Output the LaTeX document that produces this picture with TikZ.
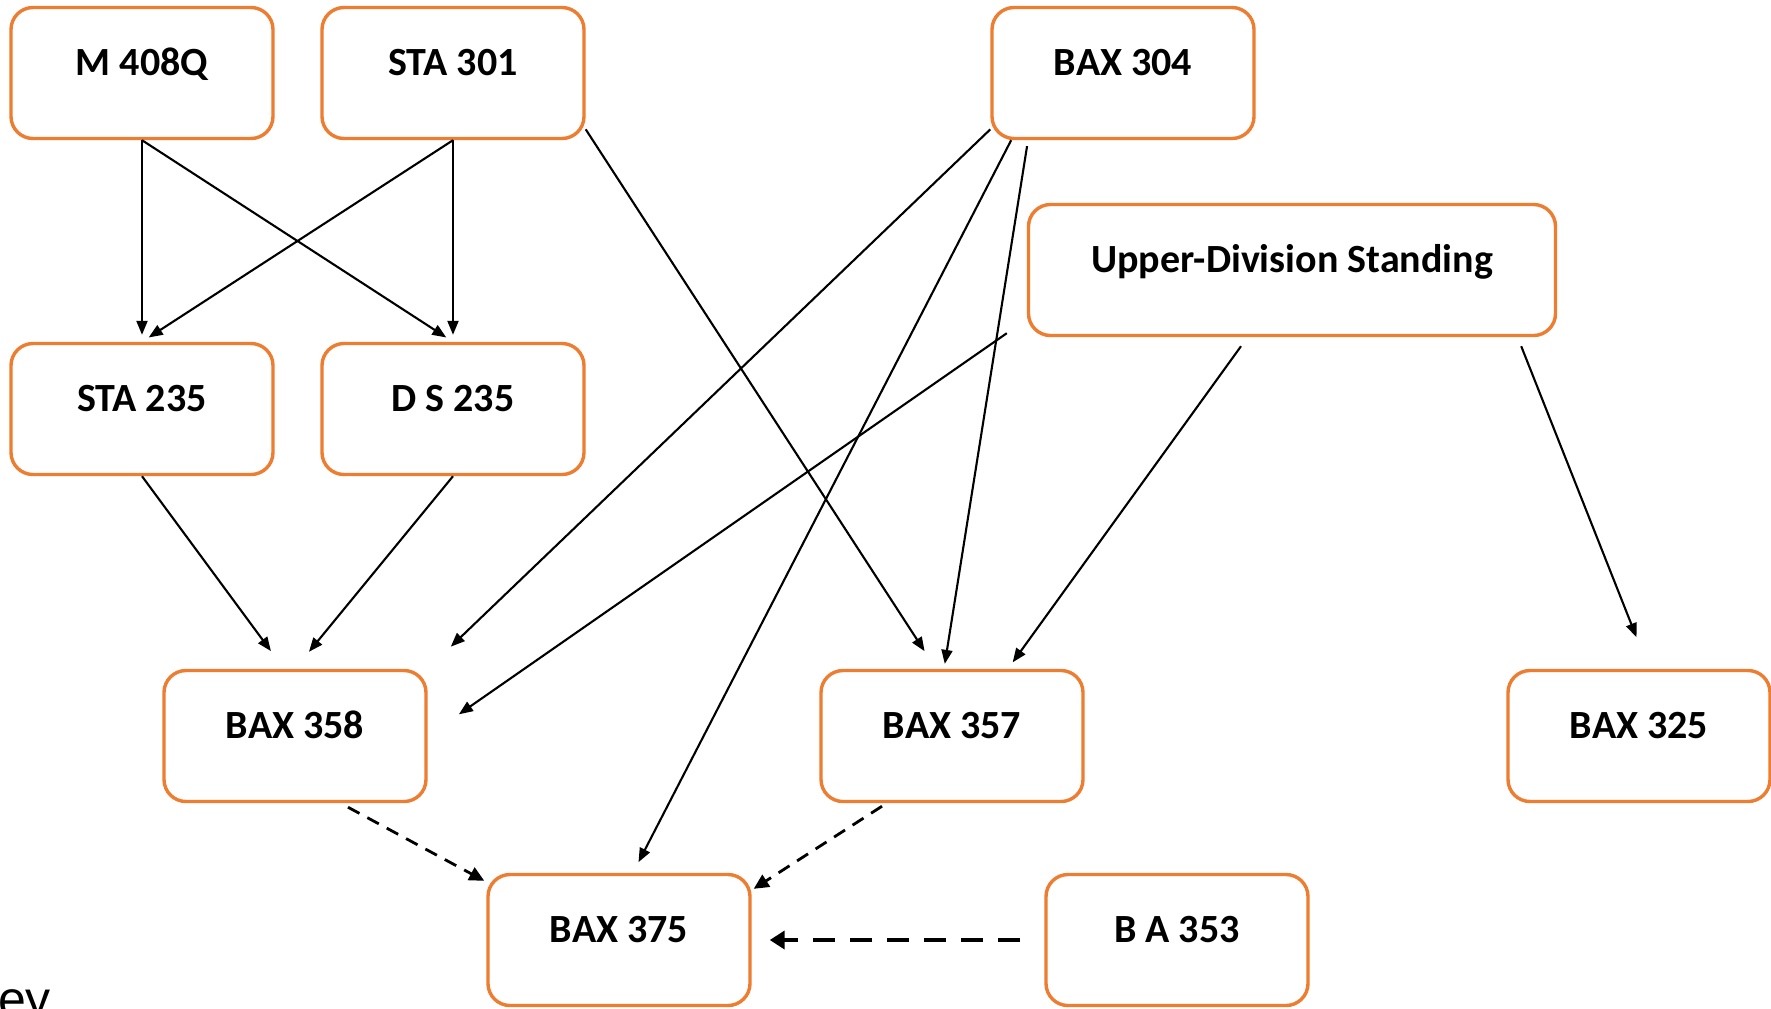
\documentclass[tikz,border=0pt]{standalone}
\usepackage{fontspec}
\setmainfont{Carlito}
\newfontfamily\keyfont{Liberation Sans}
\usepackage{xcolor}
\definecolor{myorange}{RGB}{237,125,49}
\usetikzlibrary{arrows.meta}

\begin{document}
\begin{tikzpicture}[x=0.5pt,y=-0.5pt,line width=1.05pt,>={Triangle[length=7pt,width=5.5pt]}]
	\tikzstyle{kuang}=[draw=myorange,line width=1.7pt,rounded corners=11pt,minimum width=131pt,minimum height=65.5pt,inner sep=0pt,text height=14pt,text depth=11.5pt,font=\fontsize{20}{24}\selectfont\bfseries];
	\tikzstyle{xu}=[line width=1.4pt,dash pattern=on 6.5pt off 4.5pt];
	\tikzstyle{cuxu}=[line width=2pt,dash pattern=on 11pt off 7.5pt];
	\useasboundingbox (0,0) rectangle (1771,1008);
	\clip (0,0) rectangle (1771,1008);
	\node[kuang] (m408)   at (142,73)   {M 408Q};
	\node[kuang] (sta301) at (453,73)   {STA 301};
	\node[kuang] (bax304) at (1123,73)  {BAX 304};
	\node[kuang,minimum width=263.5pt] (uds) at (1292,270) {Upper-Division Standing};
	\node[kuang] (sta235) at (142,409)  {STA 235};
	\node[kuang] (ds235)  at (453,409)  {D S 235};
	\node[kuang] (bax358) at (295,736)  {BAX 358};
	\node[kuang] (bax357) at (952,736)  {BAX 357};
	\node[kuang] (bax325) at (1639,736) {BAX 325};
	\node[kuang] (bax375) at (619,940)  {BAX 375};
	\node[kuang] (ba353)  at (1177,940) {B A 353};
	\node[font=\keyfont\fontsize{25}{29}\selectfont,anchor=base east,inner sep=0pt] (key) at (52,1016) {ey};
	\draw[->,shorten >=3.5pt] (m408.south) -- (sta235.north);
	\draw[->,shorten >=4pt] (m408.south) -- (ds235.north);
	\draw[->,shorten >=4pt] (sta301.south) -- (sta235.north);
	\draw[->,shorten >=3.5pt] (sta301.south) -- (ds235.north);
	\draw[->,shorten >=10.5pt] (sta301.-23.5) -- ([shift={(-16,0)}]bax357.north);
	\draw[->,shorten >=16pt] (bax304.-157) -- (bax358.north east);
	\draw[->,shorten >=6pt] (bax304.-149) -- ([shift={(14,0)}]bax375.north);
	\draw[->,shorten <=3pt,shorten >=2.5pt] ([shift={(-95,0)}]bax304.south) -- ([shift={(-8,0)}]bax357.north);
	\draw[->,shorten >=19pt] ([shift={(-20,-4)}]uds.south west) -- (bax358.east);
	\draw[->,shorten >=4pt] ([shift={(-51,9)}]uds.south) -- ([shift={(56,0)}]bax357.north);
	\draw[->,shorten >=17pt] ([shift={(-36,9)}]uds.south east) -- ([shift={(10,0)}]bax325.north);
	\draw[->,shorten >=11pt] (sta235.south) -- ([shift={(-11,0)}]bax358.north);
	\draw[->,shorten >=11pt] (ds235.south) -- (bax358.north);
	\draw[-{Triangle[length=7.5pt,width=7pt]},xu] ([shift={(53,4)}]bax358.south) -- ([shift={(-2,8)}]bax375.north west);
	\draw[-{Triangle[length=7.5pt,width=7pt]},xu] ([shift={(-70,3)}]bax357.south) -- ([shift={(2,16)}]bax375.north east);
	\draw[-{Triangle[length=7.5pt,width=9pt]},cuxu,shorten <=12pt,shorten >=9pt] (ba353.west) -- (bax375.east);
\end{tikzpicture}
\end{document}
